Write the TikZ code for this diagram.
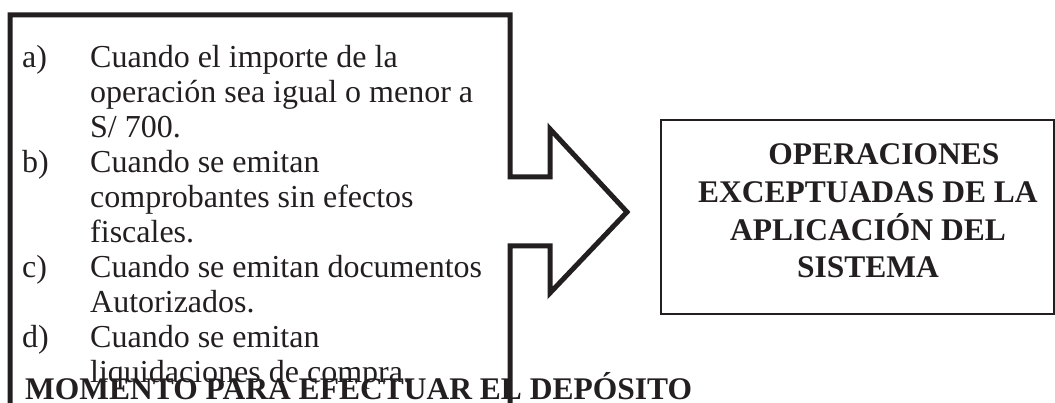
\documentclass[tikz,border=0pt]{standalone}
\usepackage{fontspec}
\setmainfont{Liberation Serif}
\definecolor{ink}{RGB}{35,31,32}
\newcommand\itemfont{\fontsize{32}{34.9}\selectfont}
\newcommand\boldfont{\fontsize{31.5}{37.7}\selectfont\bfseries}
\begin{document}
\begin{tikzpicture}[x=1pt,y=-1pt,
  txt/.style={anchor=base west,inner sep=0pt,text=ink,font=\itemfont},
  btxt/.style={anchor=base,inner sep=0pt,text=ink,font=\boldfont},
  shapeline/.style={draw=ink,line width=5pt,line join=miter},
  boxstyle/.style={draw=ink,line width=2pt,rectangle,inner sep=0pt,minimum width=393pt,minimum height=194pt}]
\useasboundingbox (0,0) rectangle (1055,403);
\clip (0,0) rectangle (1055,403);
% arrow-shaped outline
\draw[shapeline] (10,410) -- (10,15) -- (510,15) -- (510,177) -- (550,177) -- (550,129)
  -- (627,212) -- (550,293) -- (550,246) -- (510,246) -- (510,410);
% right box
\node[boxstyle] (box) at (857,217) {};
\node[btxt] (t1) at (884,165) {OPERACIONES};
\node[btxt] (t2) at (868,202.7) {EXCEPTUADAS DE LA};
\node[btxt] (t3) at (868,240.4) {APLICACIÓN DEL};
\node[btxt] (t4) at (868,278) {SISTEMA};
% list
\node[txt] (la) at (22,68) {a)};
\node[txt] (a1) at (90,68) {Cuando el importe de la};
\node[txt] (a2) at (90,102.9) {operación sea igual o menor a};
\node[txt] (a3) at (90,137.8) {S/ 700.};
\node[txt] (lb) at (22,172.7) {b)};
\node[txt] (b1) at (90,172.7) {Cuando se emitan};
\node[txt] (b2) at (90,207.6) {comprobantes sin efectos};
\node[txt] (b3) at (90,242.5) {fiscales.};
\node[txt] (lc) at (22,277.4) {c)};
\node[txt] (c1) at (90,277.4) {Cuando se emitan documentos};
\node[txt] (c2) at (90,312.3) {Autorizados.};
\node[txt] (ld) at (22,347.2) {d)};
\node[txt] (d1) at (90,347.2) {Cuando se emitan};
\node[txt] (d2) at (90,382.1) {liquidaciones de compra.};
% heading
\node[txt,font=\boldfont] (head) at (25,399) {MOMENTO PARA EFECTUAR EL DEPÓSITO};
\end{tikzpicture}
\end{document}
